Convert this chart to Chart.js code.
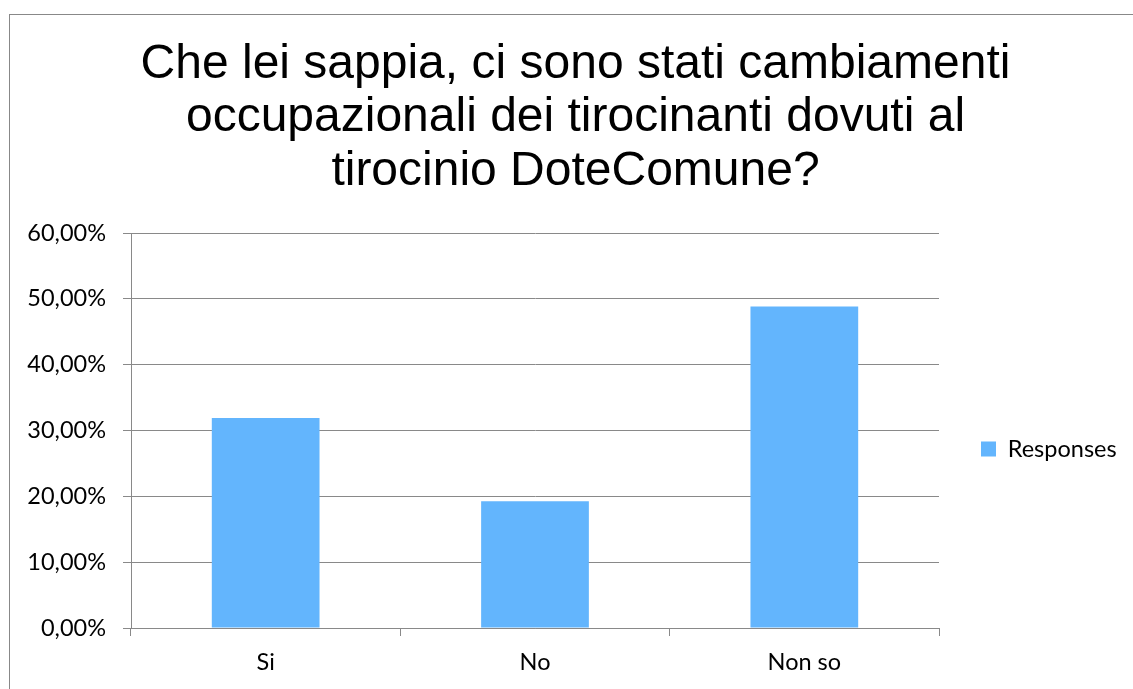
<!DOCTYPE html>
<html><head><meta charset="utf-8">
<script src="https://cdn.jsdelivr.net/npm/chart.js@4.4.1/dist/chart.umd.min.js"></script>
<style>
html,body{margin:0;padding:0;width:1133px;height:689px;overflow:hidden;background:#fff;}
#frame{position:absolute;left:9px;top:14px;width:1400px;height:900px;border-left:1px solid #888;border-top:1px solid #888;box-sizing:border-box;}
#c{position:absolute;left:9px;top:14px;}
</style></head><body>
<div id="frame"></div>
<canvas id="c" width="1133" height="675"></canvas>
<script>
const titleLines = [
  'Che lei sappia, ci sono stati cambiamenti',
  'occupazionali dei tirocinanti dovuti al',
  'tirocinio DoteComune?'
];
const categories = ['Si', 'No', 'Non so'];
const seriesName = 'Responses';
const responses = [31.88, 19.27, 48.85];
const yTickLabels = ['0,00%', '10,00%', '20,00%', '30,00%', '40,00%', '50,00%', '60,00%'];

const GRID = '#898989';
const FS = 23.5;
const LEG_PAD = 42, BOX = 15;
const mctx = document.createElement('canvas').getContext('2d');
mctx.font = FS + 'px Lato';
const textW = mctx.measureText(seriesName).width;
const legendW = LEG_PAD + BOX + FS / 2 + textW + 10;
const innerRight = 930 + legendW;
const padSide = 1133 - innerRight;

new Chart(document.getElementById('c'), {
  type: 'bar',
  data: {
    labels: categories,
    datasets: [{
      label: seriesName,
      data: responses,
      backgroundColor: '#63B5FD',
      borderWidth: 0,
      categoryPercentage: 1,
      barPercentage: 0.4
    }]
  },
  options: {
    responsive: false,
    animation: false,
    devicePixelRatio: 1,
    layout: { padding: { left: padSide, right: padSide, top: 0, bottom: 1 } },
    plugins: {
      tooltip: { enabled: false },
      title: {
        display: true,
        text: titleLines,
        color: '#000',
        font: { family: '"Liberation Sans", Arial, sans-serif', size: 48, weight: 'normal', lineHeight: 1.1146 },
        padding: { top: 24, bottom: 34.5 }
      },
      legend: {
        position: 'right',
        align: 'center',
        fullSize: false,
        title: { display: true, text: ' ', font: { size: 10, lineHeight: 1 }, padding: { top: 27, bottom: 0 } },
        labels: {
          boxWidth: BOX, boxHeight: BOX, padding: LEG_PAD,
          color: '#000',
          font: { family: 'Lato', size: FS }
        }
      }
    },
    scales: {
      x: {
        offset: true,
        grid: { display: true, drawOnChartArea: false, drawTicks: true, tickLength: 8, color: GRID, lineWidth: 1 },
        border: { display: true, color: GRID, width: 1 },
        ticks: { color: '#000', padding: 21.3, font: { family: 'Lato', size: FS, lineHeight: 0.4 } }
      },
      y: {
        min: 0, max: 60,
        afterFit: (s) => { s.width = 122 - padSide; },
        grid: { color: GRID, lineWidth: 1, tickLength: 8, drawTicks: true },
        border: { display: true, color: GRID, width: 1 },
        ticks: {
          stepSize: 10,
          padding: 17,
          color: '#000',
          font: { family: 'Lato', size: FS },
          callback: (v, i) => yTickLabels[i]
        }
      }
    }
  }
});
</script>
</body></html>
